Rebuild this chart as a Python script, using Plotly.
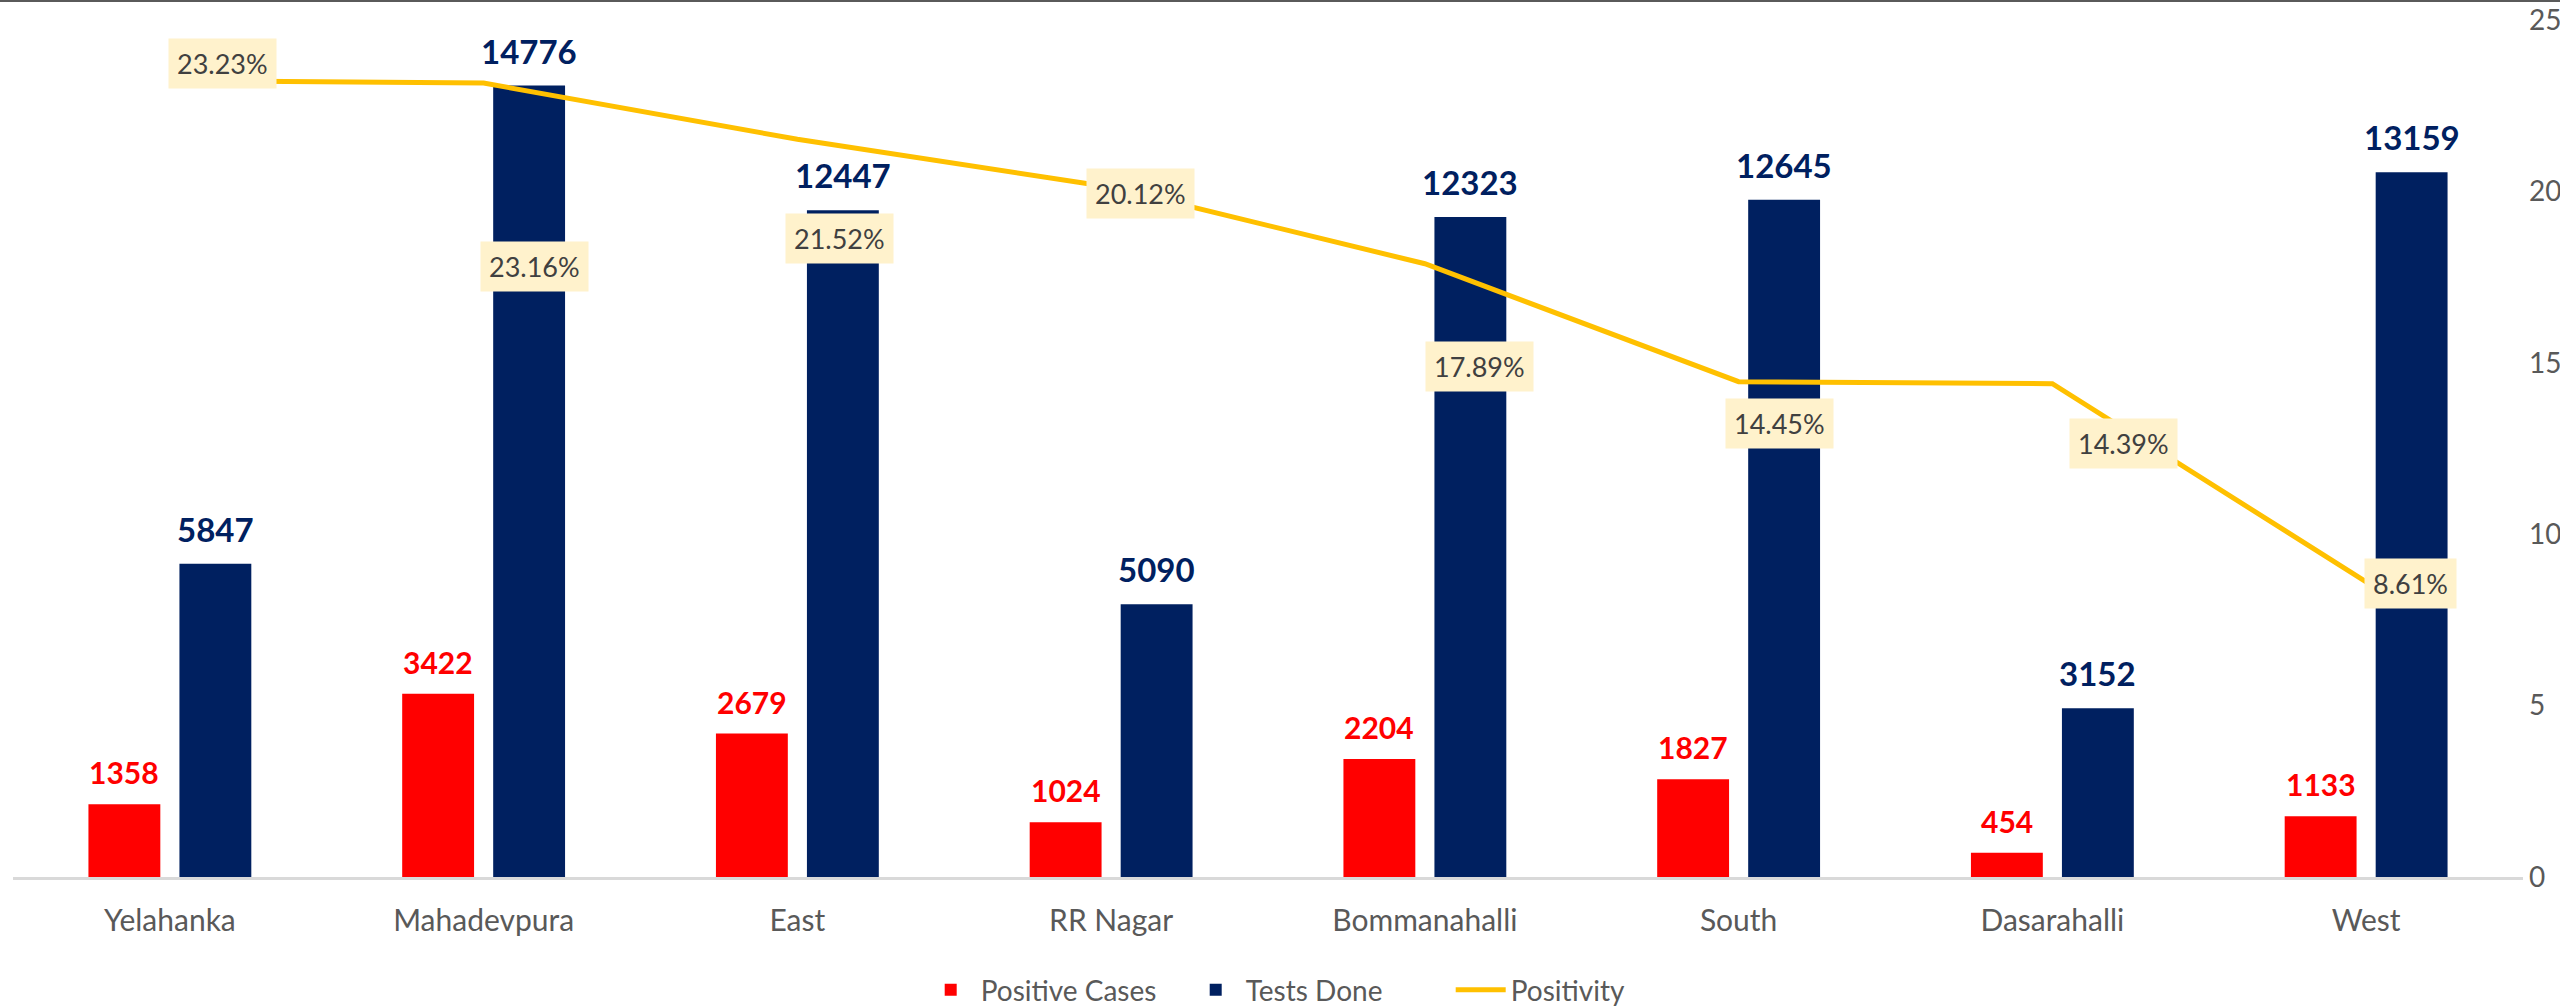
#!/usr/bin/env python
# coding: utf-8
import plotly.graph_objects as go
'''
Zone wise positive cases, tests done and positivity
'''

zones = ['Yelahanka', 'Mahadevpura', 'East', 'RR Nagar', 'Bommanahalli', 'South', 'Dasarahalli', 'West']
positive_cases = [1358, 3422, 2679, 1024, 2204, 1827, 454, 1133]
tests_done = [5847, 14776, 12447, 5090, 12323, 12645, 3152, 13159]
positivity = [23.23, 23.16, 21.52, 20.12, 17.89, 14.45, 14.39, 8.61]

# where the positivity boxes sit relative to their point (px, right / down)
label_dx = [53, 51, 42, 29, 55, 41, 71, 44]
label_dy = [-17, 183, 99, 6, 103, 42, 60, 2]

font_family = 'Lato, Open Sans, sans-serif'
grey_text = '#595959'

W, H = 2560, 1008
margin = {'l': 13, 'r': 37, 't': 20, 'b': 131}
bargap = 0.42
# half a bar slot, used to put the value labels over each bar of a group
cat_px = (W - margin['l'] - margin['r']) / len(zones)
half_slot = (1 - bargap) * cat_px / 4

trace1 = go.Bar(
    x=zones, y=positive_cases, name='Positive Cases',
    marker={'color': '#FF0000', 'line': {'width': 0}},
)

trace2 = go.Bar(
    x=zones, y=tests_done, name='Tests Done',
    marker={'color': '#002060', 'line': {'width': 0}},
)

trace3 = go.Scatter(
    x=zones, y=positivity, name='Positivity', yaxis='y2',
    mode='lines', line={'color': '#FFC000', 'width': 5},
)

annotations = []
# bar value labels
for zone, pos, tst in zip(zones, positive_cases, tests_done):
    annotations.append({
        'x': zone, 'y': pos, 'xref': 'x', 'yref': 'y',
        'text': '<b>%d</b>' % pos, 'showarrow': False,
        'xshift': -half_slot, 'yshift': 12, 'yanchor': 'bottom',
        'font': {'family': font_family, 'size': 30, 'color': '#FF0000'},
    })
    annotations.append({
        'x': zone, 'y': tst, 'xref': 'x', 'yref': 'y',
        'text': '<b>%d</b>' % tst, 'showarrow': False,
        'xshift': half_slot, 'yshift': 13, 'yanchor': 'bottom',
        'font': {'family': font_family, 'size': 33, 'color': '#002060'},
    })

# positivity data labels with the pale yellow fill
for zone, val, dx, dy in zip(zones, positivity, label_dx, label_dy):
    annotations.append({
        'x': zone, 'y': val, 'xref': 'x', 'yref': 'y2',
        'text': '%.2f%%' % val, 'showarrow': False,
        'xshift': dx, 'yshift': -dy,
        'bgcolor': '#FFF2CC', 'borderpad': 8,
        'font': {'family': font_family, 'size': 27, 'color': '#404040'},
    })

layout = go.Layout({
    'width': W, 'height': H,
    'template': 'none',
    'paper_bgcolor': 'white', 'plot_bgcolor': 'white',
    'margin': margin,
    'barmode': 'group', 'bargap': bargap, 'bargroupgap': 0.21,
    'font': {'family': font_family, 'size': 28, 'color': grey_text},
    'xaxis': {
        'showline': True, 'linecolor': '#D9D9D9', 'linewidth': 3,
        'showgrid': False, 'zeroline': False, 'ticks': '',
        'tickfont': {'size': 30, 'color': grey_text},
        'ticklabelstandoff': 15, 'automargin': False,
    },
    'yaxis': {'range': [0, 16000], 'visible': False, 'showgrid': False},
    'yaxis2': {
        'range': [0, 25], 'dtick': 5, 'overlaying': 'y', 'side': 'right',
        'showgrid': False, 'zeroline': False, 'showline': False, 'ticks': '',
        'tickfont': {'size': 28, 'color': grey_text},
        'ticklabelstandoff': 5, 'automargin': False,
    },
    'showlegend': True,
    'legend': {
        'orientation': 'h', 'x': 0.52, 'xanchor': 'center',
        'yref': 'container', 'y': 1 - 990 / H, 'yanchor': 'middle',
        'font': {'size': 28, 'color': grey_text},
        'itemwidth': 50, 'entrywidth': 200, 'traceorder': 'normal',
    },
    'annotations': annotations,
    'shapes': [{
        'type': 'line', 'xref': 'paper', 'yref': 'paper',
        'x0': -0.01, 'x1': 1.02, 'y0': 1 + 19 / 857, 'y1': 1 + 19 / 857,
        'line': {'color': '#5a5a5a', 'width': 2},
    }],
})

fig = go.Figure(data=[trace1, trace2, trace3], layout=layout)
fig.write_html("out.html", config={'displayModeBar': False},
               post_script="document.body.style.margin='0';")
